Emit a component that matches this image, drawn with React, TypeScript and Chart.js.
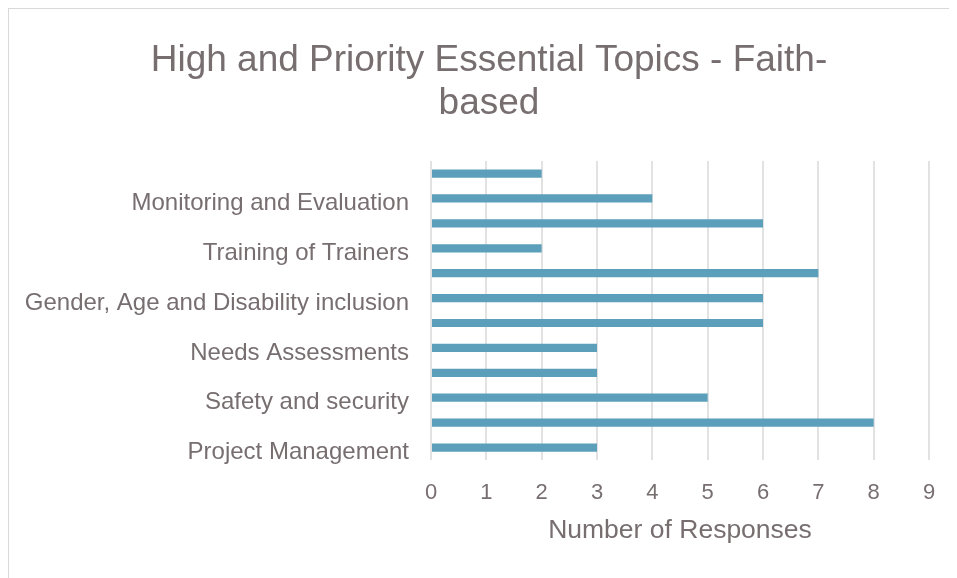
import React, { useEffect, useRef } from "react";
import { Chart, registerables } from "chart.js";

Chart.register(...registerables);

const chartTitle = ["High and Priority Essential Topics - Faith-", "based"];
const axisTitle = "Number of Responses";
// Categories listed from top to bottom; only every other label is shown in the original.
const categories = [
  "Humanitarian Principles",
  "Monitoring and Evaluation",
  "Coordination",
  "Training of Trainers",
  "Protection",
  "Gender, Age and Disability inclusion",
  "Psychosocial Support",
  "Needs Assessments",
  "Cash Transfer Programming",
  "Safety and security",
  "Disaster Risk Reduction",
  "Project Management",
];
const responses = [2, 4, 6, 2, 7, 6, 6, 3, 3, 5, 8, 3];
const xTicks = [0, 1, 2, 3, 4, 5, 6, 7, 8, 9];

const TEXT = "#776e70";
const FONT = "'Liberation Sans', Arial, sans-serif";

const widenYLabelArea = {
  id: "widenYLabelArea",
  afterLayout(chart: any) {
    if (chart.scales.y) chart.scales.y.left = 0;
  },
};

export default function App() {
  const ref = useRef<HTMLCanvasElement | null>(null);
  useEffect(() => {
    document.documentElement.style.overflow = "hidden";
    const canvas = ref.current;
    if (!canvas) return;
    const chart = new Chart(canvas, {
      type: "bar",
      data: {
        labels: categories,
        datasets: [
          {
            data: responses,
            backgroundColor: "#5b9fbb",
            borderWidth: 0,
            categoryPercentage: 1,
            barPercentage: 0.33,
          },
        ],
      },
      plugins: [widenYLabelArea],
      options: {
        indexAxis: "y",
        animation: false,
        responsive: false,
        maintainAspectRatio: false,
        layout: { padding: { left: 40, right: 28, top: 0, bottom: 31 } },
        plugins: {
          legend: { display: false },
          tooltip: { enabled: false },
          title: {
            display: true,
            text: chartTitle,
            color: TEXT,
            font: { family: FONT, size: 37, weight: "normal", lineHeight: 1.15 },
            padding: { top: 31, bottom: 36 },
          },
        },
        scales: {
          x: {
            min: 0,
            max: 9,
            afterBuildTicks: (scale: any) => {
              scale.ticks = xTicks.map((v) => ({ value: v }));
            },
            afterFit: (scale: any) => {
              scale.height = 87;
            },
            grid: { color: "#e2e2e2", lineWidth: 2, drawTicks: false },
            border: { display: false },
            ticks: {
              color: TEXT,
              padding: 20,
              font: { family: FONT, size: 22 },
            },
            title: {
              display: true,
              text: axisTitle,
              color: TEXT,
              font: { family: FONT, size: 26.5 },
              padding: { top: 0, bottom: 0 },
            },
          },
          y: {
            afterFit: (scale: any) => {
              scale.width = 382;
            },
            grid: { display: false, drawTicks: false },
            border: { display: false },
            ticks: {
              autoSkip: false,
              color: TEXT,
              padding: 22,
              labelOffset: 5,
              font: { family: FONT, size: 24 },
              callback: function (this: any, _v: any, i: number) {
                return i % 2 === 1 ? categories[i] : "";
              },
            },
          },
        },
      },
    });
    return () => chart.destroy();
  }, []);
  return (
    <div
      style={{
        borderTop: "1px solid #d9d9d9",
        borderLeft: "1px solid #d9d9d9",
        width: 948,
        height: 569,
        background: "#fff",
      }}
    >
      <canvas ref={ref} width={948} height={569} style={{ display: "block" }} />
    </div>
  );
}
